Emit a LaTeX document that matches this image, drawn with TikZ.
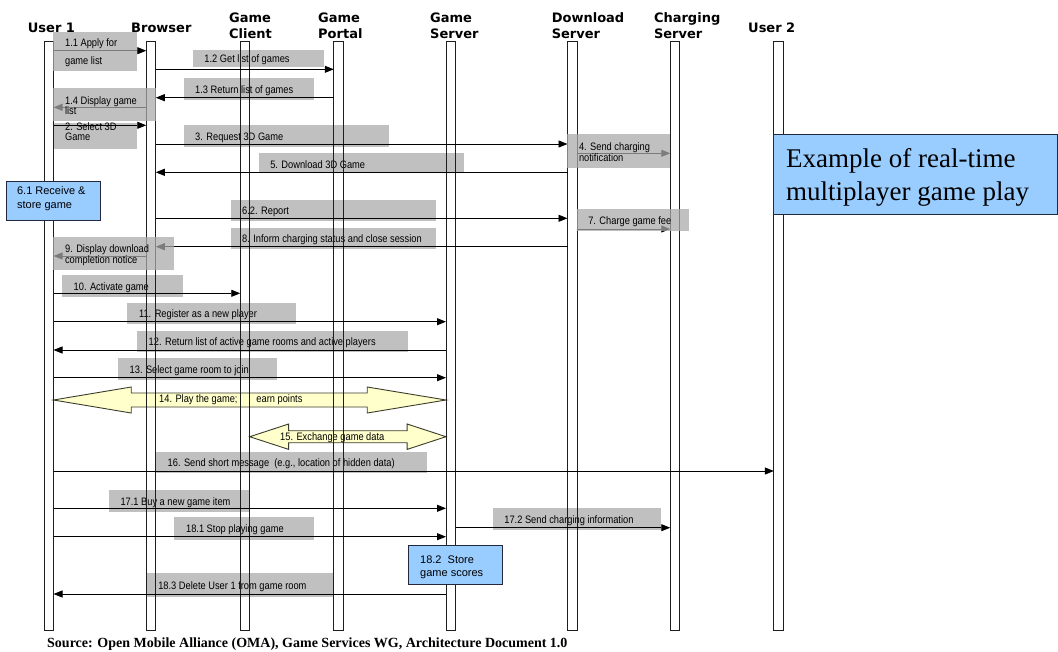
\documentclass[tikz,border=0pt]{standalone}
\usepackage{fontspec}
\setmainfont{Liberation Serif}
\newfontfamily\msgfont[FakeStretch=0.86]{Liberation Sans}
\newfontfamily\notefont{Liberation Sans}
\newfontfamily\headfont{DejaVu Sans}
\usetikzlibrary{arrows.meta,calc}
\pgfdeclarelayer{back}
\pgfsetlayers{back,main}

\definecolor{lifeline}{RGB}{30,30,30}
\definecolor{msgfill}{RGB}{192,192,192}
\definecolor{msgveil}{RGB}{170,170,170}
\definecolor{notefill}{RGB}{153,204,255}
\definecolor{noteline}{RGB}{35,40,60}
\definecolor{playfill}{RGB}{255,255,204}
\definecolor{playline}{RGB}{60,60,45}

\tikzset{
  life/.style={draw=lifeline, line width=0.9pt, inner sep=0pt, outer sep=0pt,
    minimum width=9.5pt, minimum height=588.7pt},
  head/.style={font=\headfont\bfseries\fontsize{13}{16}\selectfont, inner sep=0pt, align=left},
  msgbox/.style={fill=msgfill, inner sep=0pt, outer sep=0pt},
  veilbox/.style={fill=msgveil, fill opacity=0.733, inner sep=0pt, outer sep=0pt},
  msgtext/.style={font=\msgfont\fontsize{10.8}{10.5}\selectfont, inner sep=0pt,
    align=left, anchor=west, yshift=-1.5pt},
  msg/.style={draw=black, line width=0.9pt, -{Triangle[length=9pt,width=7pt]}},
  note/.style={fill=notefill, draw=noteline, line width=1pt, inner sep=0pt, outer sep=0pt},
  notetext/.style={font=\notefont\fontsize{11}{13.3}\selectfont, inner sep=0pt,
    align=left, anchor=west},
  play/.style={fill=playfill, draw=playline, line width=0.9pt, line join=miter},
}

% \seqlabel[text options]{box style}{name}{x1}{y1}{x2}{y2}{text}
\newcommand\seqlabel[8][]{%
  \node[#2, minimum width={#6-#4}, minimum height={#7-#5}] (#3) at ({(#4+#6)/2},{(#5+#7)/2}) {};
  \node[msgtext,#1] (#3t) at ([xshift=11.5pt]#3.west) {#8};}

\begin{document}
\begin{tikzpicture}[x=1pt,y=-1pt]
\useasboundingbox (0,0) rectangle (1058,651);
\begin{pgfonlayer}{back}
  \fill[white] (0,0) rectangle (1058,651);
\end{pgfonlayer}

% lifelines
\node[life] (u1) at (48.75,335.65) {};
\node[life] (br) at (151,335.65) {};
\node[life] (gc) at (245,335.65) {};
\node[life] (gp) at (338.5,335.65) {};
\node[life] (gs) at (450.75,335.65) {};
\node[life] (ds) at (572.25,335.65) {};
\node[life] (cs) at (675,335.65) {};
\node[life] (u2) at (778.6,335.65) {};

% participant names
\node[head, anchor=base west] (h1) at (27.7,32) {User 1};
\node[head, anchor=base west] (h2) at (131,32.5) {Browser};
\node[head, anchor=north west] (h3) at (229,12.4) {Game\\Client};
\node[head, anchor=north west] (h4) at (318,12.4) {Game\\Portal};
\node[head, anchor=north west] (h5) at (430,12.4) {Game\\Server};
\node[head, anchor=north west] (h6) at (551.6,12.4) {Download\\Server};
\node[head, anchor=north west] (h7) at (653.8,12.4) {Charging\\Server};
\node[head, anchor=base west] (h8) at (748,32.5) {User 2};

% message labels lying beneath the lifelines
\begin{pgfonlayer}{back}
  \seqlabel{msgbox}{s1b}{192.7}{50}{323.8}{66.7}{1.2 Get list of games}
  \seqlabel{msgbox}{s1c}{183.5}{78.3}{314}{100}{1.3 Return list of games}
  \seqlabel[yshift=5.5pt]{msgbox}{s2}{53.4}{122.7}{137}{149}{2. Select 3D\\Game}
  \seqlabel{msgbox}{s3}{183.5}{125}{389}{146.7}{3. Request 3D Game}
  \seqlabel{msgbox}{s5}{258.6}{153.3}{463.7}{173.3}{5. Download 3D Game}
  \seqlabel{msgbox}{s6b}{230.5}{200}{436}{220.7}{6.2. Report}
  \seqlabel{msgbox}{s8}{230.5}{228.3}{436}{249}{8. Inform charging status and close session}
  \seqlabel{msgbox}{s10}{62}{275}{183}{296.7}{10. Activate game}
  \seqlabel{msgbox}{s11}{127.4}{302.7}{295.8}{324}{11. Register as a new player}
  \seqlabel{msgbox}{s12}{137}{331}{408}{351.7}{12. Return list of active game rooms and active players}
  \seqlabel{msgbox}{s13}{118}{358.3}{277}{380}{13. Select game room to join}
  \seqlabel{msgbox}{s16}{156}{451.7}{426.6}{473.3}{16. Send short message\ \ (e.g., location of hidden data)}
  \seqlabel{msgbox}{s17a}{108.8}{490}{249.4}{511.7}{17.1 Buy a new game item}
  \seqlabel{msgbox}{s17b}{492.7}{508.3}{660.7}{530}{17.2 Send charging information}
  \seqlabel{msgbox}{s18a}{174.4}{517.3}{314}{540}{18.1 Stop playing game}
  \seqlabel{msgbox}{s18c}{146.6}{573.3}{333}{596.7}{18.3 Delete User 1 from game room}

  % two-way exchanges
  \draw[play] (u1.east |- 0,400) -- ++(77.7,-13) -- ++(0,6)
    -- ($(gs.west |- 0,400)+(-78.8,-7)$) -- ++(0,-6) -- (gs.west |- 0,400)
    -- ++(-78.8,13) -- ++(0,-6) -- ($(u1.east |- 0,400)+(77.7,7)$) -- ++(0,6) -- cycle;
  \node[msgtext] (p14) at (159,398) {14. Play the game;\hspace{19pt}earn points};
  \draw[play] (gc.east |- 0,436.7) -- ++(38.9,-12.7) -- ++(0,6.7)
    -- ($(gs.west |- 0,436.7)+(-38.9,-6)$) -- ++(0,-6.7) -- (gs.west |- 0,436.7)
    -- ++(-38.9,12.7) -- ++(0,-6.7) -- ($(gc.east |- 0,436.7)+(38.9,6)$) -- ++(0,6.7) -- cycle;
  \node[msgtext] (p15) at (280,436) {15. Exchange game data};
\end{pgfonlayer}

% messages
\draw[msg] (u1.east |- 0,50.7) -- (br.west |- 0,50.7);
\draw[msg] (br.east |- 0,69.3) -- (gp.west |- 0,69.3);
\draw[msg] (gp.west |- 0,97.7) -- (br.east |- 0,97.7);
\draw[msg] (br.west |- 0,107.3) -- (u1.east |- 0,107.3);
\draw[msg] (u1.east |- 0,125.3) -- (br.west |- 0,125.3);
\draw[msg] (br.east |- 0,144) -- (ds.west |- 0,144);
\draw[msg] (ds.east |- 0,153.3) -- (cs.west |- 0,153.3);
\draw[msg] (ds.west |- 0,172.3) -- (br.east |- 0,172.3);
\draw[msg] (br.east |- 0,218.3) -- (ds.west |- 0,218.3);
\draw[msg] (ds.east |- 0,229) -- (cs.west |- 0,229);
\draw[msg] (ds.west |- 0,246.7) -- (br.east |- 0,246.7);
\draw[msg] (br.west |- 0,256) -- (u1.east |- 0,256);
\draw[msg] (u1.east |- 0,293.3) -- (gc.west |- 0,293.3);
\draw[msg] (u1.east |- 0,321.7) -- (gs.west |- 0,321.7);
\draw[msg] (gs.west |- 0,350) -- (u1.east |- 0,350);
\draw[msg] (u1.east |- 0,377.7) -- (gs.west |- 0,377.7);
\draw[msg] (u1.east |- 0,471) -- (u2.west |- 0,471);
\draw[msg] (u1.east |- 0,508.3) -- (gs.west |- 0,508.3);
\draw[msg] (gs.east |- 0,527.7) -- (cs.west |- 0,527.7);
\draw[msg] (u1.east |- 0,536.7) -- (gs.west |- 0,536.7);
\draw[msg] (gs.west |- 0,594) -- (u1.east |- 0,594);

% message labels laid over their arrows
\seqlabel{veilbox}{s1a}{53.4}{31.7}{137}{70.7}{1.1 Apply for\\[6.9pt]game list}
\seqlabel{veilbox}{s1d}{53.4}{87.7}{155.5}{120.7}{1.4 Display game\\list}
\seqlabel{veilbox}{s4}{567.3}{134}{670}{167.7}{4. Send charging\\notification}
\seqlabel{veilbox}{s7}{576.6}{209}{688.8}{230.7}{7. Charge game fee}
\seqlabel{veilbox}{s9}{53.4}{237.3}{174}{270}{9. Display download\\completion notice}

% local actions
\node[note, minimum width=94pt, minimum height=39pt] (n6a) at (53,201.2) {};
\node[notetext] (n6at) at ([xshift=10.9pt,yshift=2.4pt]n6a.west) {6.1 Receive \&\\store game};
\node[note, minimum width=93.8pt, minimum height=38.6pt] (n18b) at (455.6,565) {};
\node[notetext] (n18bt) at ([xshift=11.3pt,yshift=-2.2pt]n18b.west) {18.2\ \ Store\\game scores};

% title
\node[note, minimum width=283.2pt, minimum height=80pt] (ttl) at (915.4,174) {};
\node[font=\fontsize{27}{33.3}\selectfont, inner sep=0pt, align=left, anchor=west] (ttlt)
  at (786,177.1) {Example of real-time\\multiplayer game play};

% source line
\node[font=\bfseries\fontsize{14}{16}\selectfont, inner sep=0pt, anchor=base west] (src)
  at (47,647) {Source: Open Mobile Alliance (OMA), Game Services WG, Architecture Document 1.0};
\end{tikzpicture}
\end{document}
